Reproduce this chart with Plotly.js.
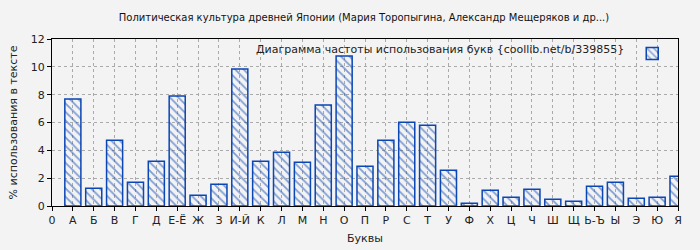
<!DOCTYPE html>
<html>
<head>
<meta charset="utf-8">
<script src="https://cdn.plot.ly/plotly-3.0.1.min.js"></script>
<style>html,body{margin:0;padding:0;background:#f3f3f3;}#chart{width:700px;height:250px;}</style>
</head>
<body>
<div id="chart"></div>
<script>
const tickLabels = ["0","А","Б","В","Г","Д","Е-Ё","Ж","З","И-Й","К","Л","М","Н","О","П","Р","С","Т","У","Ф","Х","Ц","Ч","Ш","Щ","Ь-Ъ","Ы","Э","Ю","Я"];
const letters = ["А","Б","В","Г","Д","Е-Ё","Ж","З","И-Й","К","Л","М","Н","О","П","Р","С","Т","У","Ф","Х","Ц","Ч","Ш","Щ","Ь-Ъ","Ы","Э","Ю","Я"];
const percents = [7.68,1.27,4.73,1.70,3.22,7.90,0.77,1.56,9.84,3.22,3.86,3.14,7.25,10.78,2.86,4.73,6.02,5.81,2.57,0.19,1.13,0.62,1.20,0.48,0.34,1.42,1.70,0.55,0.62,2.14];
const chartTitle = "Политическая культура древней Японии (Мария Торопыгина, Александр Мещеряков и др...)";
const legendText = "Диаграмма частоты использования букв {coollib.net/b/339855}";

const positions = letters.map(l => tickLabels.indexOf(l));
const tickPositions = tickLabels.map((t, i) => i);

const blue = "#0a46b4";
const trace = {
  type: "bar",
  x: positions,
  y: percents,
  customdata: letters,
  hovertemplate: "%{customdata}: %{y}<extra></extra>",
  textposition: "none",
  name: "",
  width: 0.77,
  marker: {
    color: "rgba(0,0,0,0)",
    line: {color: blue, width: 1.5},
    pattern: {shape: "\\", fgcolor: blue, bgcolor: "rgba(0,0,0,0)", size: 6, solidity: 0.3, fillmode: "overlay"}
  },
  showlegend: true
};

const font = {family: "DejaVu Sans, sans-serif", size: 11, color: "#222"};
const layout = {
  width: 700, height: 250,
  paper_bgcolor: "#f3f3f3",
  plot_bgcolor: "#f3f3f3",
  margin: {l: 52, r: 22, t: 39, b: 44},
  font: font,
  title: {text: chartTitle, font: {family: "DejaVu Sans, sans-serif", size: 10, color: "#111"}, x: 0.52, xanchor: "center", y: 0.93, yanchor: "middle"},
  xaxis: {
    range: [0, 30],
    tickmode: "array", tickvals: tickPositions, ticktext: tickLabels,
    ticks: "outside", ticklen: 4, tickcolor: "#000",
    showline: true, linecolor: "#000", linewidth: 1, mirror: true,
    showgrid: true, gridcolor: "#aaaaaa", griddash: "dot", gridwidth: 1,
    zeroline: false,
    tickfont: {family: "DejaVu Sans, sans-serif", size: 11, color: "#222"},
    title: {text: "Буквы", font: {family: "DejaVu Sans, sans-serif", size: 11, color: "#222"}, standoff: 8}
  },
  yaxis: {
    range: [0, 12], dtick: 2,
    ticks: "outside", ticklen: 4, tickcolor: "#000",
    showline: true, linecolor: "#000", linewidth: 1, mirror: true,
    showgrid: true, gridcolor: "#aaaaaa", griddash: "dot", gridwidth: 1,
    zeroline: false,
    tickfont: {family: "DejaVu Sans, sans-serif", size: 11, color: "#222"},
    title: {text: "% использования в тексте", font: {family: "DejaVu Sans, sans-serif", size: 11, color: "#222"}, standoff: 10}
  },
  legend: {
    x: 1, xanchor: "right", y: 1, yanchor: "top",
    bgcolor: "rgba(0,0,0,0)",
    font: {family: "DejaVu Sans, sans-serif", size: 11, color: "#222"},
    title: {text: legendText, side: "left", font: {family: "DejaVu Sans, sans-serif", size: 11, color: "#222"}},
    itemwidth: 30
  },
  bargap: 0.2
};

Plotly.newPlot("chart", [trace], layout, {displayModeBar: false, staticPlot: true});
</script>
</body>
</html>
